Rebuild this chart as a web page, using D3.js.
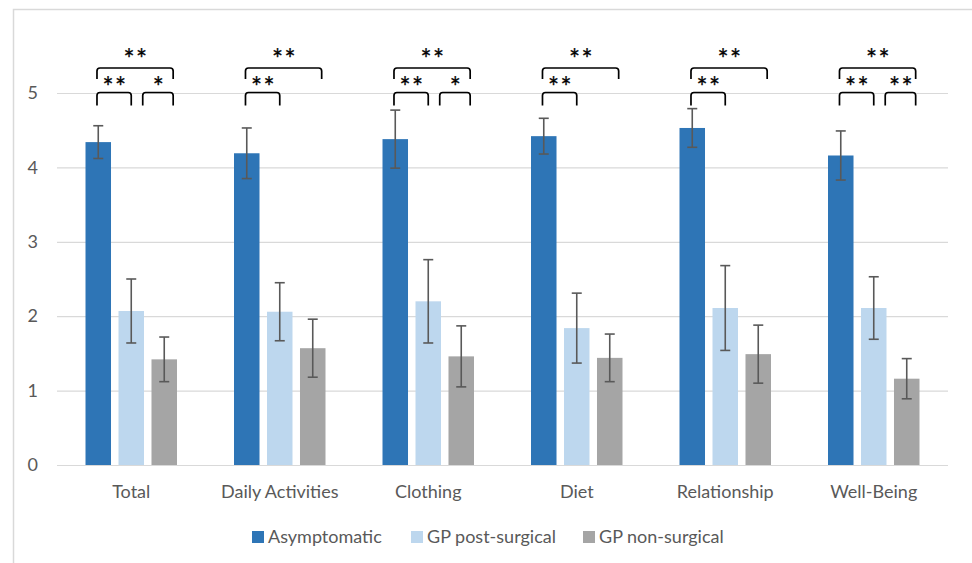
<!DOCTYPE html>
<html>
<head>
<meta charset="utf-8">
<script src="https://cdn.jsdelivr.net/npm/d3@7"></script>
<style>
  html, body { margin: 0; padding: 0; background: #fff; }
  svg { display: block; }
  text { font-family: Lato, "Open Sans", sans-serif; }
</style>
</head>
<body>
<svg id="chart" width="972" height="563"></svg>
<script>
// ---------- data ----------
const categories = ["Total", "Daily Activities", "Clothing", "Diet", "Relationship", "Well-Being"];
const seriesNames = ["Asymptomatic", "GP post-surgical", "GP non-surgical"];
const asymptomatic   = [4.34, 4.19, 4.38, 4.42, 4.53, 4.16];
const gpPostSurgical = [2.07, 2.06, 2.20, 1.84, 2.11, 2.11];
const gpNonSurgical  = [1.42, 1.57, 1.46, 1.44, 1.49, 1.16];
const errAsymptomatic   = [0.22, 0.34, 0.39, 0.24, 0.26, 0.33];
const errGpPostSurgical = [0.43, 0.39, 0.56, 0.47, 0.57, 0.42];
const errGpNonSurgical  = [0.30, 0.39, 0.41, 0.32, 0.39, 0.27];
const yTicks = [0, 1, 2, 3, 4, 5];
// significance brackets: [from series, to series, level, label]
const significance = [
  [[0, 1, 0, "**"], [1, 2, 0, "*"],  [0, 2, 1, "**"]],
  [[0, 1, 0, "**"], [0, 2, 1, "**"]],
  [[0, 1, 0, "**"], [1, 2, 0, "*"],  [0, 2, 1, "**"]],
  [[0, 1, 0, "**"], [0, 2, 1, "**"]],
  [[0, 1, 0, "**"], [0, 2, 1, "**"]],
  [[0, 1, 0, "**"], [1, 2, 0, "**"], [0, 2, 1, "**"]]
];

const values = [asymptomatic, gpPostSurgical, gpNonSurgical];
const errors = [errAsymptomatic, errGpPostSurgical, errGpNonSurgical];
const colors = ["#2E75B6", "#BDD7EE", "#A5A5A5"];

// ---------- layout ----------
const svg = d3.select("#chart");
const plot = { left: 57, right: 948, top: 93, bottom: 465 };

// chart border (only top/left visible in crop)
svg.append("rect").attr("x", 13.5).attr("y", 9.5).attr("width", 1000).attr("height", 600)
  .attr("fill", "none").attr("stroke", "#D9D9D9").attr("stroke-width", 1.5);

const x0 = d3.scaleBand().domain(categories).range([plot.left, plot.right]).padding(0);
const x1 = d3.scaleBand().domain(d3.range(3)).range([0, x0.bandwidth()])
  .paddingInner(0.227).paddingOuter(0.864);
const y = d3.scaleLinear().domain([0, 5]).range([plot.bottom, plot.top]);

// gridlines
svg.append("g").selectAll("line").data(yTicks).join("line")
  .attr("x1", plot.left).attr("x2", plot.right)
  .attr("y1", d => y(d) + 0.5).attr("y2", d => y(d) + 0.5)
  .attr("stroke", "#D9D9D9").attr("stroke-width", 1.2);

// y axis labels
const yAxis = d3.axisLeft(y).tickValues(yTicks).tickSize(0).tickPadding(0).tickFormat(d3.format("d"));
const yg = svg.append("g").attr("transform", `translate(${38},0)`).call(yAxis);
yg.select(".domain").remove();
yg.selectAll("text").attr("fill", "#595959").attr("font-size", "18px")
  .attr("font-family", "Lato, 'Open Sans', sans-serif");

// x axis labels
const xAxis = d3.axisBottom(x0).tickSize(0).tickPadding(0);
const xg = svg.append("g").attr("transform", `translate(0,${485})`).call(xAxis);
xg.select(".domain").remove();
xg.selectAll("text").attr("fill", "#595959").attr("font-size", "18px")
  .attr("font-family", "Lato, 'Open Sans', sans-serif");

// bars
const groups = svg.append("g").selectAll("g").data(categories).join("g")
  .attr("transform", d => `translate(${x0(d)},0)`);

groups.each(function(cat, ci) {
  const g = d3.select(this);
  const rows = d3.range(3).map(s => ({ s, v: values[s][ci], e: errors[s][ci] }));
  g.selectAll("rect").data(rows).join("rect")
    .attr("x", d => x1(d.s)).attr("width", x1.bandwidth())
    .attr("y", d => y(d.v)).attr("height", d => y(0) - y(d.v))
    .attr("fill", d => colors[d.s]);
  // error bars
  const eb = g.selectAll("g.err").data(rows).join("g").attr("class", "err")
    .attr("stroke", "#595959").attr("stroke-width", 1.6);
  const cx = d => x1(d.s) + x1.bandwidth() / 2;
  eb.append("line").attr("x1", cx).attr("x2", cx)
    .attr("y1", d => y(d.v + d.e)).attr("y2", d => y(d.v - d.e));
  eb.append("line").attr("x1", d => cx(d) - 5).attr("x2", d => cx(d) + 5)
    .attr("y1", d => y(d.v + d.e)).attr("y2", d => y(d.v + d.e));
  eb.append("line").attr("x1", d => cx(d) - 5).attr("x2", d => cx(d) + 5)
    .attr("y1", d => y(d.v - d.e)).attr("y2", d => y(d.v - d.e));

  // significance brackets
  const bw = x1.bandwidth();
  const anchor = (s, side) => {
    if (side === "L") return x1(s) + bw * (s === 1 ? 0.95 : 0.45);
    return x1(s) + bw * (s === 2 ? 0.85 : 0.5);
  };
  const levelTop = [y(5) - 0.5, y(5) - 25];
  const armLen = [13, 11];
  const labelBase = [4.5, 1];
  significance[ci].forEach(([a, b, lvl, lab]) => {
    const xa = anchor(a, "L"), xb = anchor(b, "R");
    const yt = levelTop[lvl], yb = yt + armLen[lvl], r = 3;
    g.append("path")
      .attr("d", `M${xa},${yb} L${xa},${yt + r} Q${xa},${yt} ${xa + r},${yt} L${xb - r},${yt} Q${xb},${yt} ${xb},${yt + r} L${xb},${yb}`)
      .attr("fill", "none").attr("stroke", "#000").attr("stroke-width", 1.7);
    g.append("text").attr("x", (xa + xb) / 2 + 1).attr("y", yt + labelBase[lvl])
      .attr("text-anchor", "middle").attr("font-size", "26px")
      .attr("font-family", "'DejaVu Sans', sans-serif")
      .attr("letter-spacing", "1.5px")
      .attr("fill", "#000").attr("stroke", "#000").attr("stroke-width", 0.3)
      .text(lab);
  });
});

// legend
const legendX = [252, 411, 583];
const lg = svg.append("g").selectAll("g").data(seriesNames).join("g")
  .attr("transform", (d, i) => `translate(${legendX[i]},${531})`);
lg.append("rect").attr("width", 12).attr("height", 12).attr("fill", (d, i) => colors[i]);
lg.append("text").attr("x", 16).attr("y", 6).attr("dy", "0.35em")
  .attr("fill", "#595959").attr("font-size", "18px").text(d => d);
</script>
</body>
</html>
